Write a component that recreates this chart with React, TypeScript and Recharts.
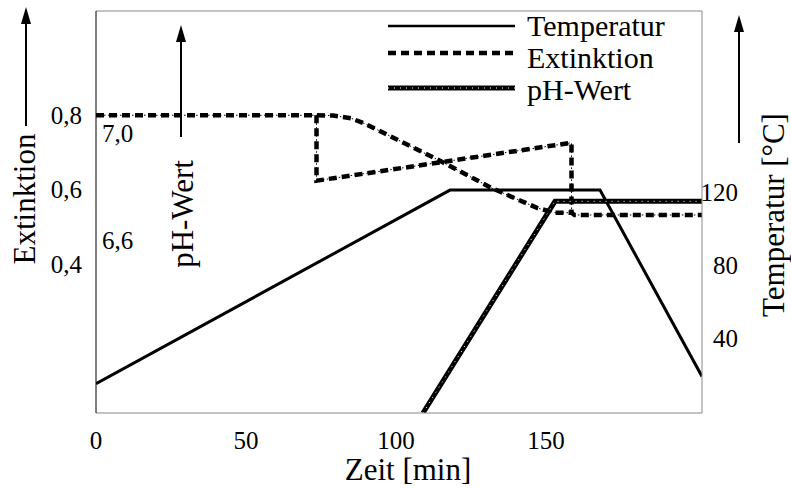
import React from 'react';
import { LineChart, Line, XAxis, YAxis, ReferenceLine, Legend } from 'recharts';

const timeTicks = [0, 50, 100, 150];
const extTicks = [0.4, 0.6, 0.8];
const phTicks = [6.6, 7.0];
const tempTicks = [40, 80, 120];

const seriesNames = ['Temperatur', 'Extinktion', 'pH-Wert'];

const tempTime = [0, 118, 168, 202];
const tempValues = [15, 121, 121, 19];

const extTime = [0, 73.5, 79, 85, 90, 96, 115, 132, 147, 153, 158.5, 159.5, 202];
const extValues = [0.8, 0.8, 0.799, 0.792, 0.776, 0.752, 0.676, 0.604, 0.551, 0.538, 0.538, 0.532, 0.532];

const extBranchTime = [73.5, 73.5, 158.5, 158.5];
const extBranchValues = [0.8, 0.624, 0.726, 0.538];

const phTime = [109, 153, 202];
const phValues = [5.95, 6.745, 6.745];

const toPoints = (xs: number[], ys: number[]) => xs.map((t, i) => ({ t, v: ys[i] }));

const tempData = toPoints(tempTime, tempValues);
const extData = toPoints(extTime, extValues);
const extBranchData = toPoints(extBranchTime, extBranchValues);
const phData = toPoints(phTime, phValues);

const FONT = '"Liberation Serif", "Times New Roman", serif';
const comma = (v: number) => v.toFixed(1).replace('.', ',');

const ExtTick = (props: any) => (
  <text x={props.x} y={props.y} dy="0.35em" textAnchor="end" fontSize={25} fontFamily={FONT} fill="#000">
    {comma(props.payload.value)}
  </text>
);

const PhTick = (props: any) => (
  <text x={props.x} y={props.y} dy="0.35em" textAnchor="start" fontSize={25} fontFamily={FONT} fill="#000">
    {comma(props.payload.value)}
  </text>
);

const TempTick = (props: any) => (
  <text x={props.x} y={props.y} dy="0.35em" textAnchor="end" fontSize={25} fontFamily={FONT} fill="#000">
    {props.payload.value}
  </text>
);

const TimeTick = (props: any) => (
  <text x={props.x} y={props.y} dy="0.71em" textAnchor="middle" fontSize={25} fontFamily={FONT} fill="#000">
    {props.payload.value}
  </text>
);

// legend drawn by hand: long line samples with the label to the right
const renderLegend = () => {
  const rows = [
    { y: 26, base: 36 },
    { y: 53, base: 68 },
    { y: 88, base: 100 },
  ];
  return (
    <svg width={300} height={110} style={{ display: 'block' }}>
      <line x1={0} x2={127} y1={rows[0].y} y2={rows[0].y} stroke="#000" strokeWidth={2.5} />
      <line x1={0} x2={127} y1={rows[1].y} y2={rows[1].y} stroke="#000" strokeWidth={4.5} strokeDasharray="8 5" />
      <line x1={0} x2={127} y1={rows[2].y} y2={rows[2].y} stroke="#000" strokeWidth={5} />
      <line x1={0} x2={127} y1={rows[2].y} y2={rows[2].y} stroke="#fff" strokeWidth={1} strokeDasharray="1 5" />
      {seriesNames.map((n, i) => (
        <text key={n} x={139} y={rows[i].base} fontSize={30} fontFamily={FONT} fill="#000">
          {n}
        </text>
      ))}
    </svg>
  );
};

const Arrow = ({ x, top, bottom }: { x: number; top: number; bottom: number }) => (
  <g>
    <line x1={x} x2={x} y1={bottom} y2={top + 10} stroke="#000" strokeWidth={2} />
    <polygon points={`${x},${top} ${x - 5},${top + 17} ${x + 5},${top + 17}`} fill="#000" />
  </g>
);

export default function App() {
  return (
    <div style={{ position: 'absolute', left: 0, top: 0, width: 791, height: 489, background: '#fff' }}>
      <LineChart
        width={791}
        height={489}
        margin={{ top: 11, right: 0, bottom: 0, left: 0 }}
        style={{ fontFamily: FONT }}
      >
        <XAxis
          type="number"
          dataKey="t"
          domain={[0, 202]}
          ticks={timeTicks}
          allowDataOverflow
          height={76}
          stroke="#888"
          tickLine={false}
          tickSize={0}
          tickMargin={18}
          tick={<TimeTick />}
        />
        <YAxis
          yAxisId="ext"
          orientation="left"
          type="number"
          domain={[0, 1.08]}
          ticks={extTicks}
          allowDataOverflow
          width={96}
          stroke="#000"
          tickLine={false}
          tickSize={0}
          tickMargin={14}
          tick={<ExtTick />}
        />
        <YAxis
          yAxisId="ph"
          orientation="left"
          mirror
          type="number"
          domain={[5.95, 7.46]}
          ticks={phTicks}
          allowDataOverflow
          axisLine={false}
          tickLine={false}
          tickSize={0}
          tickMargin={6}
          tick={<PhTick />}
        />
        <YAxis
          yAxisId="temp"
          orientation="right"
          type="number"
          domain={[-1, 219]}
          ticks={tempTicks}
          allowDataOverflow
          width={89}
          stroke="#888"
          tickLine={false}
          tickSize={0}
          tickMargin={36}
          tick={<TempTick />}
        />
        <ReferenceLine yAxisId="ext" y={1.08} stroke="#888" strokeWidth={1} />
        <Legend
          layout="vertical"
          align="center"
          verticalAlign="middle"
          content={renderLegend}
          wrapperStyle={{ left: 388, top: 0, width: 300, height: 110 }}
        />

        <Line
          yAxisId="temp"
          data={tempData}
          dataKey="v"
          name="Temperatur"
          type="linear"
          stroke="#000"
          strokeWidth={3}
          dot={false}
          activeDot={false}
          isAnimationActive={false}
        />

        <Line
          yAxisId="ext"
          data={extData}
          dataKey="v"
          name="Extinktion-base"
          legendType="none"
          type="linear"
          stroke="#000"
          strokeWidth={1}
          strokeDasharray="1.5 2.5"
          dot={false}
          activeDot={false}
          isAnimationActive={false}
        />
        <Line
          yAxisId="ext"
          data={extData}
          dataKey="v"
          name="Extinktion"
          type="linear"
          stroke="#000"
          strokeWidth={4.5}
          strokeDasharray="8 5"
          dot={false}
          activeDot={false}
          isAnimationActive={false}
        />
        <Line
          yAxisId="ext"
          data={extBranchData}
          dataKey="v"
          name="Extinktion-branch-base"
          legendType="none"
          type="linear"
          stroke="#000"
          strokeWidth={1}
          strokeDasharray="1.5 2.5"
          dot={false}
          activeDot={false}
          isAnimationActive={false}
        />
        <Line
          yAxisId="ext"
          data={extBranchData}
          dataKey="v"
          name="Extinktion-branch"
          legendType="none"
          type="linear"
          stroke="#000"
          strokeWidth={4.5}
          strokeDasharray="8 5"
          dot={false}
          activeDot={false}
          isAnimationActive={false}
        />

        <Line
          yAxisId="ph"
          data={phData}
          dataKey="v"
          name="pH-Wert"
          type="linear"
          stroke="#000"
          strokeWidth={5}
          dot={false}
          activeDot={false}
          isAnimationActive={false}
        />
        <Line
          yAxisId="ph"
          data={phData}
          dataKey="v"
          name="pH-Wert-dots"
          legendType="none"
          type="linear"
          stroke="#fff"
          strokeWidth={1}
          strokeDasharray="1 5"
          dot={false}
          activeDot={false}
          isAnimationActive={false}
        />
      </LineChart>

      <svg
        width={791}
        height={489}
        style={{ position: 'absolute', left: 0, top: 0, pointerEvents: 'none' }}
      >
        <Arrow x={26} top={7} bottom={126} />
        <Arrow x={181} top={25} bottom={137} />
        <Arrow x={739} top={15} bottom={143} />
        <text
          x={24}
          y={199}
          transform="rotate(-90 24 199)"
          textAnchor="middle"
          dominantBaseline="central"
          fontSize={31}
          fontFamily={FONT}
          fill="#000"
        >
          Extinktion
        </text>
        <text
          x={182}
          y={214}
          transform="rotate(-90 182 214)"
          textAnchor="middle"
          dominantBaseline="central"
          fontSize={31}
          fontFamily={FONT}
          fill="#000"
        >
          pH-Wert
        </text>
        <text
          x={773}
          y={215}
          transform="rotate(-90 773 215)"
          textAnchor="middle"
          dominantBaseline="central"
          fontSize={31}
          fontFamily={FONT}
          fill="#000"
        >
          Temperatur [°C]
        </text>
        <text x={408} y={480} textAnchor="middle" fontSize={31} fontFamily={FONT} fill="#000">
          Zeit [min]
        </text>
      </svg>
    </div>
  );
}
